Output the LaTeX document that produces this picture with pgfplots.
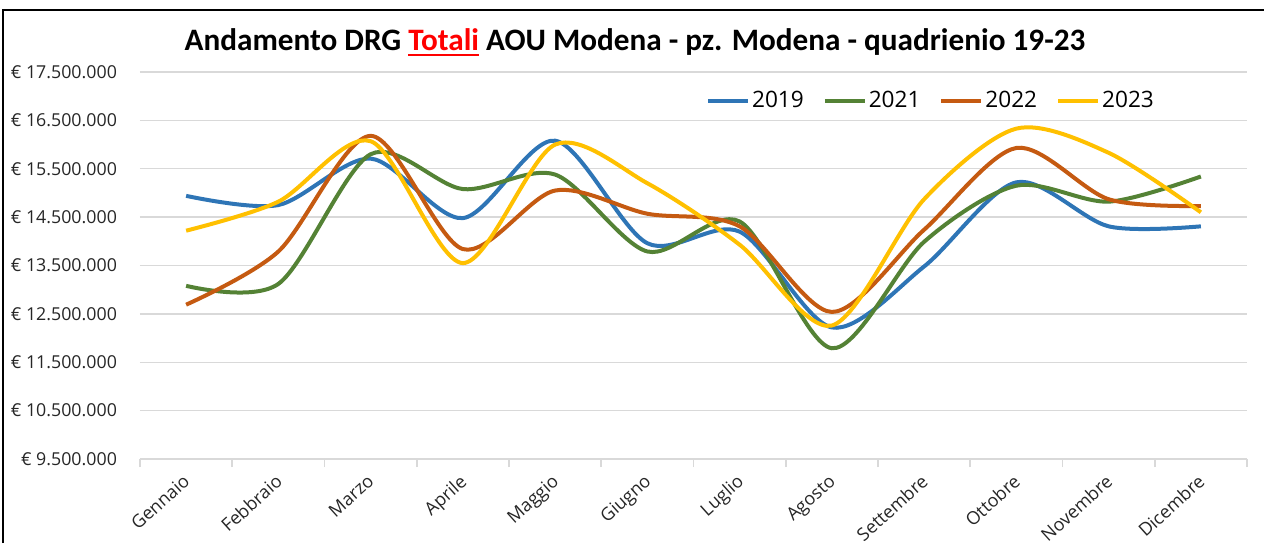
\documentclass[border=0pt]{standalone}
\usepackage{fontspec}
\setmainfont{Carlito}
\newfontfamily\tickfont{Open Sans}
\usepackage{pgfplots}
\pgfplotsset{compat=1.18}
\definecolor{c19}{HTML}{2E75B6}
\definecolor{c21}{HTML}{548235}
\definecolor{c22}{HTML}{C55A11}
\definecolor{c23}{HTML}{FFC000}
\definecolor{gridc}{HTML}{D9D9D9}
\pgfplotstableread{
x y
0 14940000
1 14750000
2 15710000
3 14480000
4 16080000
5 13960000
6 14200000
7 12220000
8 13480000
9 15220000
10 14310000
11 14310000
}\dataA
\pgfplotstableread{
x y
0 13080000
1 13120000
2 15800000
3 15080000
4 15380000
5 13790000
6 14410000
7 11790000
8 13990000
9 15150000
10 14820000
11 15340000
}\dataB
\pgfplotstableread{
x y
0 12690000
1 13790000
2 16180000
3 13840000
4 15050000
5 14570000
6 14310000
7 12540000
8 14240000
9 15930000
10 14870000
11 14730000
}\dataC
\pgfplotstableread{
x y
0 14220000
1 14820000
2 16070000
3 13550000
4 16000000
5 15200000
6 13930000
7 12260000
8 14870000
9 16330000
10 15830000
11 14600000
}\dataD
\begin{document}
\begin{tikzpicture}
\useasboundingbox (0,0) rectangle (632pt,271.5pt);
\draw[black, line width=1.2pt] (1.5pt,0pt) -- (1.5pt,266.5pt) -- (632pt,266.5pt);
\node[font=\bfseries\fontsize{15.6}{18}\selectfont] at (317.5pt,250.5pt)
  {Andamento DRG {\color{red}\setbox0\hbox{Totali}\rlap{\vrule height -1.7pt depth 2.7pt width \wd0}\box0} AOU Modena - pz. Modena - quadrienio 19-23};
\begin{axis}[
  at={(70pt,42pt)}, anchor=south west,
  scale only axis, width=553.5pt, height=193.5pt,
  xmin=-0.5, xmax=11.5, ymin=9500000, ymax=17500000,
  scaled y ticks=false,
  ytick={9500000,10500000,11500000,12500000,13500000,14500000,15500000,16500000,17500000},
  yticklabels={€ 9.500.000,€ 10.500.000,€ 11.500.000,€ 12.500.000,€ 13.500.000,€ 14.500.000,€ 15.500.000,€ 16.500.000,€ 17.500.000},
  yticklabel style={font=\tickfont\fontsize{8.9}{11}\selectfont, xshift=-8pt, text=black!85},
  ymajorgrids, grid style={gridc, line width=0.7pt},
  axis x line*=bottom, axis y line*=left,
  y axis line style={draw=none}, x axis line style={gridc, line width=0.8pt},
  ytick style={draw=none},
  xtick={0,1,2,3,4,5,6,7,8,9,10,11},
  xticklabels={Gennaio,Febbraio,Marzo,Aprile,Maggio,Giugno,Luglio,Agosto,Settembre,Ottobre,Novembre,Dicembre},
  xticklabel style={xshift=-2pt, yshift=-5.5pt, font=\tickfont\fontsize{9}{11}\selectfont, rotate=42, anchor=north east, inner sep=1pt, text=black!85},
  major tick length=0pt,
  extra x ticks={-0.5,0.5,1.5,2.5,3.5,4.5,5.5,6.5,7.5,8.5,9.5,10.5,11.5},
  extra x tick labels={},
  extra x tick style={grid=none, major tick length=4pt, tick align=outside, tick style={draw=gridc, line width=0.8pt}},
  legend columns=4,
  legend style={at={(0.511,0.925)}, anchor=west, draw=none, fill=none,
    font=\tickfont\fontsize{11.3}{13}\selectfont, inner sep=0pt,
    nodes={inner sep=1pt},
    /tikz/every odd column/.append style={column sep=0pt},
    /tikz/every even column/.append style={column sep=8.5pt}},
  legend image code/.code={\draw[#1] (0pt,0pt) -- (20pt,0pt);},
  every axis plot/.append style={line width=2pt, smooth, no markers},
]
\addplot[c19] table {\dataA};
\addplot[c21] table {\dataB};
\addplot[c22] table {\dataC};
\addplot[c23] table {\dataD};
\legend{2019,2021,2022,2023}
\end{axis}
\end{tikzpicture}
\end{document}
